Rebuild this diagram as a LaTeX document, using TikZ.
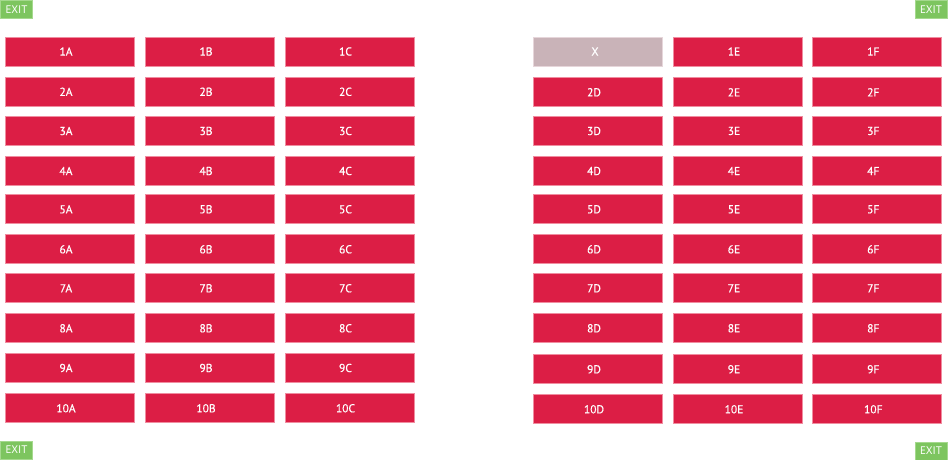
\documentclass[tikz,border=0pt]{standalone}
\usepackage{fontspec}
\setmainfont{PT Sans}
\newfontfamily\seatfont[FakeBold=0.6]{PT Sans}
\definecolor{seatred}{HTML}{DC1E45}
\definecolor{seatedge}{HTML}{F08DA0}
\definecolor{takenfill}{HTML}{C9B3B8}
\definecolor{takenedge}{HTML}{E6D6DA}
\definecolor{exitgreen}{HTML}{7DC55F}
\definecolor{exitedge}{HTML}{A5D98E}
\begin{document}
\begin{tikzpicture}[x=1bp,y=-1bp,
  seat/.style={draw=seatedge,line width=0.8bp,fill=seatred,minimum width=129bp,minimum height=29bp,inner sep=0pt},
  taken/.style={draw=takenedge,line width=0.8bp,fill=takenfill,minimum width=129bp,minimum height=29bp,inner sep=0pt},
  seatlabel/.style={text=white,font=\seatfont\fontsize{11.5bp}{13bp}\selectfont,inner sep=0pt},
  exitbox/.style={draw=exitedge,line width=0.6bp,fill=exitgreen,minimum width=32bp,minimum height=18bp,inner sep=0pt,text=white,font=\fontsize{11bp}{12bp}\selectfont}]
\useasboundingbox (0,0) rectangle (948,460);
% exits
\node[exitbox] (exitTL) at (16.5,9.5) {EXIT};
\node[exitbox] (exitTR) at (931,9.8) {EXIT};
\node[exitbox] (exitBL) at (16.5,450) {EXIT};
\node[exitbox] (exitBR) at (931,451) {EXIT};
% left block
\foreach \r/\y in {1/51.5,2/91.8,3/131,4/171,5/209.3,6/249.3,7/288.3,8/328.3,9/368,10/408.3}{
  \foreach \c/\x in {A/70,B/210,C/349.5}{
    \node[seat] (s\r\c) at (\x,\y) {};
    \node[seatlabel] (t\r\c) at (\x-4,\y) {\r\c};
  }
}
% right block
\foreach \r/\y in {1/51.5,2/92.3,3/131,4/171,5/209.3,6/249.3,7/288.3,8/328.3,9/369.3,10/409.3}{
  \foreach \c/\x in {E/738,F/877.3}{
    \node[seat] (s\r\c) at (\x,\y) {};
    \node[seatlabel] (t\r\c) at (\x-4,\y) {\r\c};
  }
}
\foreach \r/\y in {2/92.3,3/131,4/171,5/209.3,6/249.3,7/288.3,8/328.3,9/369.3,10/409.3}{
  \node[seat] (s\r D) at (598,\y) {};
  \node[seatlabel] (t\r D) at (594,\y) {\r D};
}
\node[taken] (s1D) at (598,51.5) {};
\node[seatlabel] (t1D) at (595,51.5) {X};
\end{tikzpicture}
\end{document}
